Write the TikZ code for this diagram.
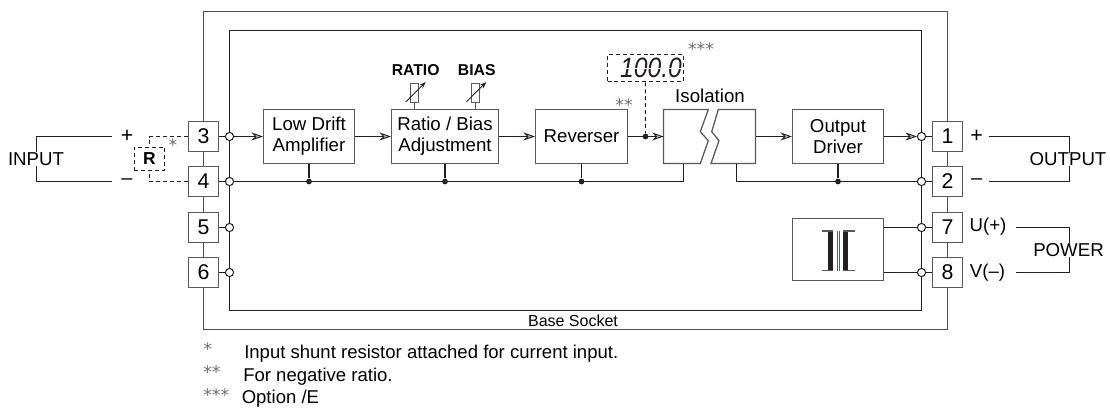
\documentclass[tikz,border=0pt]{standalone}
\usepackage{fontspec}
\setmainfont{Liberation Sans}
\newfontfamily\starfont{DejaVu Sans}
\usetikzlibrary{arrows.meta,calc}
\newdimen\pxu \pxu=0.75pt
\definecolor{ink}{HTML}{231F20}
\definecolor{boxline}{HTML}{58595B}
\definecolor{starcol}{HTML}{6D6E71}
\tikzset{
  wire/.style={draw=ink,line width=0.95pt},
  thinwire/.style={draw=ink,line width=0.85pt},
  dashwire/.style={draw=ink,line width=0.7pt,dash pattern=on 3pt off 2.2pt},
  arrowed/.style={wire,-{Stealth[length=8.5pt,width=6pt,inset=2.8pt,fill=ink!35!white,line width=0.65pt]}},
  frame/.style={draw=boxline,line width=0.95pt},
  blockbox/.style={draw=boxline,fill=white,line width=0.95pt,align=center,inner sep=0pt,
     font=\fontsize{14}{15.75}\selectfont,minimum height=54*\pxu},
  pinbox/.style={draw=boxline,fill=white,line width=0.95pt,inner sep=0pt,
     minimum width=30*\pxu,minimum height=30*\pxu,font=\fontsize{16}{18}\selectfont},
  ring/.style={circle,draw=ink,fill=white,line width=0.75pt,inner sep=0pt,minimum size=8.2*\pxu},
  blob/.style={circle,fill=ink,inner sep=0pt,minimum size=5.8*\pxu},
  lab/.style={inner sep=0pt,font=\fontsize{14}{16}\selectfont},
  signlab/.style={inner sep=0pt,font=\fontsize{16}{16}\selectfont},
  boldlab/.style={inner sep=0pt,font=\fontsize{11.8}{13}\selectfont\bfseries},
  small/.style={inner sep=0pt,font=\fontsize{12}{14}\selectfont},
  star/.style={inner sep=0pt,text=starcol,font=\fontsize{13}{13}\starfont},
  note/.style={inner sep=0pt,anchor=base west,font=\fontsize{13.9}{15}\selectfont},
}
\begin{document}
\begin{tikzpicture}[x=0.75pt,y=-0.75pt]
\useasboundingbox (0,0) rectangle (1110,408);
% frames
\coordinate (oa) at (203.5,11.5); \coordinate (ob) at (947.5,329.5);
\coordinate (ia) at (229.5,30.5); \coordinate (ib) at (921.5,310.5);
\draw[frame,draw=ink!80!white] (oa) rectangle (ob);
\draw[thinwire] (ia) rectangle (ib);
% blocks
\node[blockbox,minimum width=91*\pxu] (lda) at (309,136.5) {Low Drift\\Amplifier};
\node[blockbox,minimum width=107*\pxu] (ratio) at (445,136.5) {Ratio / Bias\\Adjustment};
\node[blockbox,minimum width=92*\pxu] (rev) at (581.5,136.5) {Reverser};
\node[blockbox,minimum width=91*\pxu] (drv) at (838,136.5) {Output\\Driver};
\node[blockbox,minimum width=91*\pxu,minimum height=62*\pxu] (psu) at (838,249.5) {};
% isolation
\coordinate (isol) at (663.5,136.5); \coordinate (isor) at (755.5,136.5);
\coordinate (isolb) at (683.5,163.5); \coordinate (isorb) at (736.5,163.5);
\draw[frame,fill=white] (663.5,109.5) -- (708.3,109.5) -- (700.3,131.7) -- (708.3,140.7) -- (700.3,163.5) -- (663.5,163.5) -- cycle;
\draw[frame,fill=white] (755.5,109.5) -- (718.3,109.5) -- (711.7,131.7) -- (719,140.7) -- (711,163.5) -- (755.5,163.5) -- cycle;
\node[lab] (isolab) at (710,96) {Isolation};
% pins
\node[pinbox] (t3) at (203.5,136.5) {3};
\node[pinbox] (t4) at (203.5,181.5) {4};
\node[pinbox] (t5) at (203.5,227.5) {5};
\node[pinbox] (t6) at (203.5,272.5) {6};
\node[pinbox] (t1) at (947.5,136.5) {1};
\node[pinbox] (t2) at (947.5,181.5) {2};
\node[pinbox] (t7) at (947.5,227.5) {7};
\node[pinbox] (t8) at (947.5,272.5) {8};
% rings
\foreach \n/\yy in {3/136.5,4/181.5,5/227.5,6/272.5}{\node[ring] (c\n) at (229.5,\yy) {};\draw[wire] (t\n) -- (c\n);}
\foreach \n/\yy in {1/136.5,2/181.5,7/227.5,8/272.5}{\node[ring] (c\n) at (921.5,\yy) {};\draw[wire] (c\n) -- (t\n);}
% signal path
\draw[arrowed] (c3) -- (lda);
\draw[arrowed] (lda) -- (ratio);
\draw[arrowed] (ratio) -- (rev);
\node[blob] (tap) at (645.5,136.5) {};
\draw[arrowed] (rev) -- (isol);
\draw[arrowed] (isor) -- (drv);
\draw[arrowed] (drv) -- (c1);
% return buses
\draw[wire] (c4) -- (683.5,181.5) -- (isolb);
\coordinate (isobus) at (736.5,181.5);
\draw[wire] (isorb) -- (isobus) -- (c2);
\node[blob] (d1) at (lda.south |- c4) {};
\node[blob] (d2) at (ratio.south |- c4) {};
\node[blob] (d3) at (rev.south |- c4) {};
\node[blob] (d4) at (drv.south |- c4) {};
\draw[wire] (lda) -- (d1);
\draw[wire] (ratio) -- (d2);
\draw[wire] (rev) -- (d3);
\draw[wire] (drv) -- (d4);
\draw[wire] (psu.east |- c7) -- (c7);
\draw[wire] (psu.east |- c8) -- (c8);
% transformer
\fill[ink] (828,231) rectangle (833,270.7);
\fill[ink] (843,231) rectangle (848,270.7);
\draw[boxline,line width=0.8pt] (821.7,231) -- (833,231) (821.7,270.7) -- (833,270.7) (843,231) -- (855,231) (843,270.7) -- (855,270.7);
\draw[boxline,line width=0.4pt] (837.4,231) -- (837.4,270.7) (838.8,231) -- (838.8,270.7);
% pots
\node[boldlab] (rlab) at (415.7,70) {RATIO};
\node[boldlab] (blab) at (476.7,70) {BIAS};
\foreach \nm/\xx in {pa/414.7,pb/475.3}{
  \node[draw=boxline,fill=white,line width=0.7pt,inner sep=0pt,minimum width=8*\pxu,minimum height=19*\pxu] (\nm) at (\xx,92.5) {};
  \coordinate (\nm s) at (\xx,110);
  \draw[boxline,line width=0.8pt] (\nm) -- (\nm s);
  \coordinate (\nm a) at (\xx-9,102); \coordinate (\nm b) at (\xx+11,82);
  \draw[ink,line width=0.7pt,-{Stealth[length=5pt,width=3.6pt]}] (\nm a) -- (\nm b);
}
% display
\node[draw=ink,line width=0.7pt,dash pattern=on 3pt off 2.2pt,inner sep=0pt,minimum width=75.5*\pxu,minimum height=27.7*\pxu] (disp) at (645.25,68) {};
\node[inner sep=0pt,font=\fontsize{21}{22}\selectfont\itshape,text=ink] (dval) at (651,68) {\scalebox{0.88}[1]{100.0}};
\draw[white,line width=0.7pt] (617,68.5) -- (682,68.5);
\draw[dashwire] (disp) -- (tap);
\node[star] (st2) at (624,105) {**};
\node[star] (st3) at (701,49) {***};
% input
\node[lab] (inp) at (36,159) {INPUT};
\coordinate (ia1) at (112,136.5); \coordinate (ia2) at (36.5,136.5);
\coordinate (ib1) at (112,181.5); \coordinate (ib2) at (36.5,181.5);
\draw[thinwire] (ia1) -- (ia2) -- (inp.north -| ia2);
\draw[thinwire] (ib1) -- (ib2) -- (inp.south -| ib2);
\node[signlab] (pl) at (127,136) {+};
\node[lab,font=\fontsize{15}{16}\selectfont] (mi) at (127,181.5) {–};
\node[draw=ink,dash pattern=on 3pt off 2.2pt,line width=0.7pt,inner sep=0pt,minimum width=30.5*\pxu,minimum height=23*\pxu,
   font=\fontsize{13}{14}\selectfont\bfseries] (rr) at (149.5,158.5) {R};
\draw[dashwire] (t3.west) -- (rr.north |- t3) -- (rr.north);
\draw[dashwire] (t4.west) -- (rr.south |- t4) -- (rr.south);
\node[star] (st1) at (173,145) {*};
% output
\node[signlab] (pl2) at (976.7,136) {+};
\node[lab,font=\fontsize{15}{16}\selectfont] (mi2) at (976.7,181.5) {–};
\node[lab] (ulab) at (988,227) {U(+)};
\node[lab] (vlab) at (987.5,272.5) {V(–)};
\node[lab] (outl) at (1068,159.5) {OUTPUT};
\node[lab] (powl) at (1068.5,250) {POWER};
\coordinate (oa1) at (989,136.5); \coordinate (oa2) at (1069.5,136.5);
\coordinate (ob1) at (989,181.5); \coordinate (ob2) at (1069.5,181.5);
\draw[thinwire] (oa1) -- (oa2) -- (outl.north -| oa2);
\draw[thinwire] (ob1) -- (ob2) -- (outl.south -| ob2);
\coordinate (pa1) at (1016,227.5); \coordinate (pa2) at (1069.5,227.5);
\coordinate (pb1) at (1016,272.5); \coordinate (pb2) at (1069.5,272.5);
\draw[thinwire] (pa1) -- (pa2) -- (powl.north -| pa2);
\draw[thinwire] (pb1) -- (pb2) -- (powl.south -| pb2);
% base + notes
\node[small] (base) at (573,320.5) {Base Socket};
\node[star,anchor=base west] (n1s) at (203,355.5) {*};
\node[star,anchor=base west] (n2s) at (203,378.5) {**};
\node[star,anchor=base west] (n3s) at (203,401.5) {***};
\node[note] (n1) at (244,358.5) {Input shunt resistor attached for current input.};
\node[note] (n2) at (243,381) {For negative ratio.};
\node[note] (n3) at (241.5,403.5) {Option /E};
\end{tikzpicture}
\end{document}
